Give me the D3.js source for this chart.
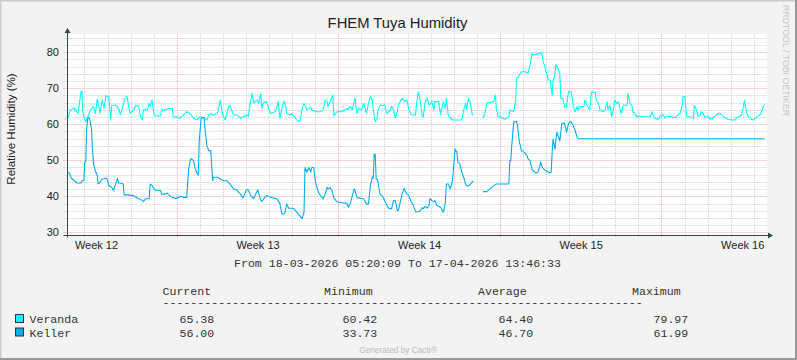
<!DOCTYPE html>
<html><head><meta charset="utf-8">
<script src="https://cdn.jsdelivr.net/npm/d3@7"></script>
<style>
html,body{margin:0;padding:0;background:#f3f3f3;}
svg{display:block;}
</style></head>
<body>
<script>
// ---------- DATA ----------
const title = "FHEM Tuya Humidity";
const yAxisTitle = "Relative Humidity (%)";
const startTime = Date.UTC(2026, 2, 18, 5, 20, 9);
const endTime = Date.UTC(2026, 3, 17, 13, 46, 33);
const periodLabel = "From 18-03-2026 05:20:09 To 17-04-2026 13:46:33";
const yTickValues = [30, 40, 50, 60, 70, 80];
const seriesNames = ["Veranda", "Keller"];
const statHeaders = ["Current", "Minimum", "Average", "Maximum"];
const statVeranda = ["65.38", "60.42", "64.40", "79.97"];
const statKeller = ["56.00", "33.73", "46.70", "61.99"];

// hours since start time
const verandaHours = [1,4,8,12,15,16,17,20,25,28,30,32,35,37,39,41,42,44,46,47,51,54,56,61,63,66,70,72,75,77,79,80,84,86,87,89,91,94,98,99,103,106,110,111,115,118,122,125,129,132,136,139,143,146,148,150,153,157,160,162,165,169,170,174,177,181,184,188,189,191,193,195,196,198,200,202,203,205,208,212,217,219,220,222,224,226,227,229,233,234,238,241,243,245,247,250,254,255,259,264,267,269,271,272,274,277,278,281,285,288,290,292,293,295,297,300,302,304,307,309,311,312,314,316,318,319,321,323,324,326,331,333,337,338,340,342,344,345,347,349,352,354,356,359,363,364,366,368,370,371,373,375,377,380,382,383,387,389,390,392,394,395,397,399,402,411,413,415,416,418,420,422,423,428,433,435,437,440,444,446,447,449,451,453,456,460,461,465,467,468,470,473,477,480,482,484,485,489,492,494,496,497,499,501,503,505,506,507,509,511,513,514,516,518,520,522,525,527,529,531,532,534,538,539,541,543,544,546,550,551,553,555,558,560,562,563,565,567,569,570,572,574,576,577,579,583,584,586,588,589,591,593,596,600,605,607,609,610,612,615,617,619,621,622,624,627,631,634,636,638,640,641,643,645,648,652,653,655,657,659,660,662,664,667,669,672,676,678,681,683,686,688,692,695,697,699,702,704,705,707,709,711,712,714,716,718,719,721,723,725,726];
const verandaValues = [61.4,64,64.5,63,69,69.3,63.1,60.7,64,64.9,63,67,63.1,66.7,64.4,68,67.7,67.7,61.2,65.3,65.3,64.5,62.6,67.2,67.7,63,64,65.3,65,62.1,61.2,64,64,65.8,65,66.7,62.6,62.3,62.3,64,64,64.4,64.4,62.1,62.1,61.7,62.6,63.5,63,61.7,61.2,62.1,61.7,61.2,62.6,63,62.6,63,66.7,63,61.2,65.3,65,62.6,62.6,61.7,62.1,62.6,62.1,65.8,68.6,65.8,66.2,66.7,65.8,68.6,64.4,66,66.3,63,63.5,64.9,66.3,61.7,64.4,66.3,66.3,63,62.6,63,61.7,60.7,61,64.4,65.8,64,64.7,64,63.5,63.5,64,66.7,66.3,64.9,66.3,68.1,62.3,63.5,63.5,63.8,64,64.4,64,64.9,64,67.2,63,64.4,64,65.8,64,63,65.8,67.7,66.7,64,60.7,61.7,64,65.3,65.3,63,64,64.9,64,61.7,63.5,65.3,66.3,67.2,66.3,66.7,64,62.6,62.6,65.8,69,66.3,62.1,62.1,66.3,67.2,65.3,66.3,64,66.3,66.3,62.6,64,66.3,64.4,67.2,62.6,61.7,61.2,61.2,64,65.8,64,67.2,65.8,62.6,62.6,null,61.7,63,66,66,66.3,68.1,64.4,62.1,62.1,61.7,61.4,62,64,63.5,66.3,72.8,73.2,74.6,74.6,74.2,76.5,79.7,79.3,79.5,79.7,79.97,76.9,76.5,74.2,72.3,72.3,68.1,72.3,72.5,76.5,75.6,74.2,67.2,67.2,64.9,64.9,69,69,64.9,63.5,64.9,64,64.9,64.9,66.7,65.3,64.4,64,69,68.8,66.7,65.8,64,63.5,64,66.3,64,65.3,62.1,64.4,66.7,65.8,66.3,64,63,65.3,65.3,68.6,65.8,65.3,63.5,63,62.1,62.3,62.1,62.1,62.1,63.5,62.6,61.7,61.4,62,62.6,62.6,61.7,62.1,62.3,61.9,61.9,62.6,63,64.9,67.7,67.7,62.1,62.1,61.7,65.3,64,62.1,62.6,63.5,63,61.9,62.3,61.4,61.7,62.6,63,62.8,62.1,61.7,61.4,61.2,61.2,61.9,62.1,62.6,64.9,66.7,63.5,62.1,61.7,61.4,61.2,61.7,61.9,62.3,62.6,63.5,65.3,65.38];

const kellerHours = [1,3,5,7,9,11,15,16,18,19,20,21,22,23,24,26,27,28,29,30,32,33,35,37,41,42,44,47,49,51,53,54,56,59,60,63,70,72,75,79,80,82,86,87,89,91,94,98,99,103,105,106,110,113,117,118,122,125,127,129,130,132,134,136,137,138,139,140,141,143,144,146,148,150,151,152,153,157,160,163,167,170,174,177,179,181,183,184,187,189,192,195,196,199,201,203,205,208,212,215,219,220,222,224,226,227,229,231,236,238,241,245,247,248,250,252,254,255,257,259,260,262,264,267,269,271,272,274,276,278,281,285,290,292,293,295,297,299,300,302,305,309,311,312,314,316,318,319,320,321,322,323,324,326,328,331,333,335,338,340,342,344,345,347,349,351,352,354,356,357,359,361,363,366,368,370,371,373,375,377,378,380,382,383,385,389,392,394,395,397,399,401,402,404,406,407,409,411,413,415,416,418,420,423,428,433,437,440,444,447,460,461,462,463,465,468,469,471,472,473,476,479,480,482,484,485,488,490,492,493,494,496,499,502,504,505,506,508,509,510,513,514,515,517,518,520,522,524,525,527,529,531,532,726];
const kellerValues = [46.5,46.5,45,44.6,44.1,43.7,43.7,44.3,44.3,49.6,49.6,58.7,61.5,61.9,61.5,58.7,53.1,49.4,48,47.1,45.7,43.4,43.9,44.8,45,45,43,42.5,41.6,43.4,45,43.7,43.7,43.4,40.4,40.4,40.2,39.7,39.4,38.8,38.5,39.3,39.3,43.4,43,42,41.6,41.6,40.6,40.6,40.9,40.4,39.7,39.4,39.7,40,39.7,39.7,47.6,50.4,50.4,49.9,47.6,46.2,45.9,55,58.7,61.5,61.9,61.9,58.7,54,52.7,52.7,48.5,44.3,45.3,45.3,44.8,44.3,44.3,43.4,42,41.8,41.1,40.6,39.7,39.7,41.8,41.8,40,39.4,40.2,41.8,39.7,38.5,39.3,40.2,39.8,39.5,39.3,38.8,37.9,35.1,35.1,35.4,37.9,36.7,36.7,36,35.1,33.8,35.6,48,46.7,48,46.7,48,48,43.9,42.9,41.1,40.2,39.3,40.6,42.5,42,42.5,41.6,39.7,38.5,38.3,38.1,37.9,36.9,37.9,40,42,41.6,39.7,39.5,39.3,38.3,37.9,37.9,42.9,45.3,45,51.7,51.7,44.8,44.8,43.9,40.6,40.2,38.8,37.6,36.7,36.5,38.8,38.8,36,36,38.3,40.6,42.2,41.6,40.6,40.2,39.3,38.3,37.2,35.7,35.7,36,36.9,36.5,37.2,36.7,37.5,39.4,38.8,38.5,38.8,37.5,36.9,35.6,38.3,43.4,43.4,42,43.9,46.2,53.1,52.2,49.4,49,46.7,45.3,43.4,42.9,42.9,43.4,44.3,null,41.3,41.3,42,42.9,43.4,43.4,49.9,49.9,54,60.6,60.8,59.6,55,54,52.7,52.2,51.3,50.4,49.9,47.6,47.1,46.5,46.7,48,49.6,48.5,47.6,47.1,46.5,46.7,52.2,55.9,53.1,55.9,57.8,55.4,57.8,60.1,60.4,60.1,57.8,60.1,60.8,60.6,59.6,58.2,56.4,56,56];

const seriesColors = ["#00FFFF", "#00AEEF"];

// ---------- LAYOUT ----------
const W = 797, H = 360;
const plotL = 66.5, plotR = 767, plotT = 34, plotB = 234.5;
const HOUR = 3600 * 1000;

const svg = d3.select("body").append("svg").attr("width", W).attr("height", H);
svg.append("rect").attr("width", W).attr("height", H).attr("fill", "#f3f3f3");
// 3D border
svg.append("rect").attr("x", 0).attr("y", 0).attr("width", W).attr("height", 1.5).attr("fill", "#cbcbcb");
svg.append("rect").attr("x", 0).attr("y", 0).attr("width", 1.5).attr("height", H).attr("fill", "#cbcbcb");
svg.append("rect").attr("x", 0).attr("y", H - 2).attr("width", W).attr("height", 2).attr("fill", "#999");
svg.append("rect").attr("x", W - 2).attr("y", 0).attr("width", 2).attr("height", H).attr("fill", "#999");

const x = d3.scaleUtc().domain([new Date(startTime), new Date(endTime)]).range([plotL, plotR]);
const y = d3.scaleLinear().domain([29.39, 85.08]).range([plotB, plotT]);
const px = v => Math.round(v) + 0.5;

// plot background
svg.append("rect").attr("x", plotL).attr("y", plotT).attr("width", plotR - plotL).attr("height", plotB - plotT).attr("fill", "#ffffff");

const minorCol = "#cfcfcf", majorCol = "#e9a9a9";
const grid = svg.append("g");
// horizontal grid: minor every 2, major every 10
const hMinor = d3.range(32, 85, 2).filter(v => v % 10 !== 0);
grid.selectAll("line.hmin").data(hMinor).join("line")
  .attr("x1", plotL - 3).attr("x2", plotR)
  .attr("y1", d => px(y(d))).attr("y2", d => px(y(d)))
  .attr("stroke", minorCol).attr("stroke-dasharray", "1,1");
grid.selectAll("line.hmaj").data(yTickValues).join("line")
  .attr("x1", plotL - 3).attr("x2", plotR)
  .attr("y1", d => px(y(d))).attr("y2", d => px(y(d)))
  .attr("stroke", majorCol).attr("stroke-dasharray", "1,1");
// vertical grid: day minor, week (Monday) major
const [d0, d1] = x.domain();
const weekStarts = d3.utcMonday.range(d0, d1);
const days = d3.utcDay.range(d0, d1).filter(d => d.getUTCDay() !== 1);
grid.selectAll("line.vmin").data(days).join("line")
  .attr("x1", d => px(x(d))).attr("x2", d => px(x(d)))
  .attr("y1", plotT).attr("y2", plotB + 3)
  .attr("stroke", minorCol).attr("stroke-dasharray", "1,1");
grid.selectAll("line.vmaj").data(weekStarts).join("line")
  .attr("x1", d => px(x(d))).attr("x2", d => px(x(d)))
  .attr("y1", plotT).attr("y2", plotB + 3)
  .attr("stroke", majorCol).attr("stroke-dasharray", "1,1");

// series
svg.append("clipPath").attr("id", "clip").append("rect")
  .attr("x", plotL).attr("y", plotT).attr("width", plotR - plotL).attr("height", plotB - plotT);
function mk(hours, values) {
  return hours.map((h, i) => ({ t: new Date(startTime + h * HOUR), v: values[i] }));
}
const series = [mk(verandaHours, verandaValues), mk(kellerHours, kellerValues)];
const line = d3.line().defined(d => d.v !== null).x(d => x(d.t)).y(d => y(d.v));
series.forEach((s, i) => {
  svg.append("path").datum(s).attr("d", line).attr("fill", "none")
    .attr("stroke", seriesColors[i]).attr("stroke-width", 1.1)
    .attr("stroke-linejoin", "round").attr("clip-path", "url(#clip)");
});

// axes
const axisColor = "#2c4d43";
svg.append("line").attr("x1", plotL - 3).attr("x2", plotR + 2).attr("y1", px(plotB)).attr("y2", px(plotB)).attr("stroke", axisColor);
svg.append("line").attr("x1", px(plotL)).attr("x2", px(plotL)).attr("y1", plotB + 3).attr("y2", plotT - 3).attr("stroke", axisColor);
svg.append("path").attr("d", `M${px(plotL) - 3},${plotT - 1} L${px(plotL) + 3},${plotT - 1} L${px(plotL)},${plotT - 6} Z`).attr("fill", axisColor);
svg.append("path").attr("d", `M${plotR + 1},${px(plotB) - 3} L${plotR + 1},${px(plotB) + 3} L${plotR + 6},${px(plotB)} Z`).attr("fill", axisColor);

// y tick labels
const yAxis = d3.axisLeft(y).tickValues(yTickValues).tickSize(0).tickPadding(0).tickFormat(d3.format("d"));
const gy = svg.append("g").attr("transform", `translate(59,0)`).call(yAxis);
gy.select(".domain").remove();
gy.selectAll("text").attr("font-family", "'Liberation Sans', Arial, sans-serif").attr("font-size", 11).attr("fill", "#222").attr("dx", 0);

// x labels: Week %V centred half a week after each Monday
const labelTimes = d3.utcMonday.range(d3.utcMonday.floor(d0), d1).map(d => new Date(+d + 3.5 * 24 * HOUR)).filter(d => d >= d0 && d <= d1);
const xAxis = d3.axisBottom(x).tickValues(labelTimes).tickSize(0).tickPadding(0).tickFormat(d3.utcFormat("Week %V"));
const gx = svg.append("g").attr("transform", `translate(0,241)`).call(xAxis);
gx.select(".domain").remove();
gx.selectAll("text").attr("font-family", "'Liberation Sans', Arial, sans-serif").attr("font-size", 11).attr("fill", "#222").attr("dy", "0.72em");

// title
svg.append("text").attr("x", 397.5).attr("y", 28).attr("text-anchor", "middle")
  .attr("font-family", "'Liberation Sans', Arial, sans-serif").attr("font-size", 14.8).attr("fill", "#222").text(title);
// y axis title
svg.append("text").attr("transform", "translate(15,129) rotate(-90)").attr("text-anchor", "middle")
  .attr("font-family", "'Liberation Sans', Arial, sans-serif").attr("font-size", 11.6).attr("fill", "#222").text(yAxisTitle);
// watermark
svg.append("text").attr("transform", "translate(783,5) rotate(90)").attr("text-anchor", "start")
  .attr("font-family", "'Liberation Sans', Arial, sans-serif").attr("font-size", 8.8).attr("fill", "#c4c4c4").text("RRDTOOL / TOBI OETIKER");
svg.append("text").attr("x", 398).attr("y", 353).attr("text-anchor", "middle")
  .attr("font-family", "'Liberation Sans', Arial, sans-serif").attr("font-size", 8.3).attr("fill", "#bbbbbb").text("Generated by Cacti®");

// legend
const mono = "'Liberation Mono', 'Courier New', monospace";
const lg = svg.append("g").attr("font-family", mono).attr("font-size", 11.6).attr("fill", "#333");
lg.append("text").attr("x", 397.5).attr("y", 267).attr("text-anchor", "middle").text(periodLabel);
const headerX = [162.5, 324, 478, 632];
const valueX = [179.5, 342.5, 498.5, 653.5];
statHeaders.forEach((h, i) => lg.append("text").attr("x", headerX[i]).attr("y", 294.5).text(h));
// separator row of dashes (vertically compressed so it does not collide with the header row)
lg.append("text").attr("transform", "translate(162.5,304.5) scale(1,0.55)").attr("font-weight", "bold").text("-".repeat(69));
const rowY = [323, 336.5];
[statVeranda, statKeller].forEach((vals, r) => {
  lg.append("rect").attr("x", 15.5).attr("y", rowY[r] - 8.5).attr("width", 8).attr("height", 8)
    .attr("fill", seriesColors[r]).attr("stroke", "#333").attr("stroke-width", 1);
  lg.append("text").attr("x", 29.5).attr("y", rowY[r]).text(seriesNames[r]);
  vals.forEach((v, i) => lg.append("text").attr("x", valueX[i]).attr("y", rowY[r]).text(v));
});
</script>
</body></html>
